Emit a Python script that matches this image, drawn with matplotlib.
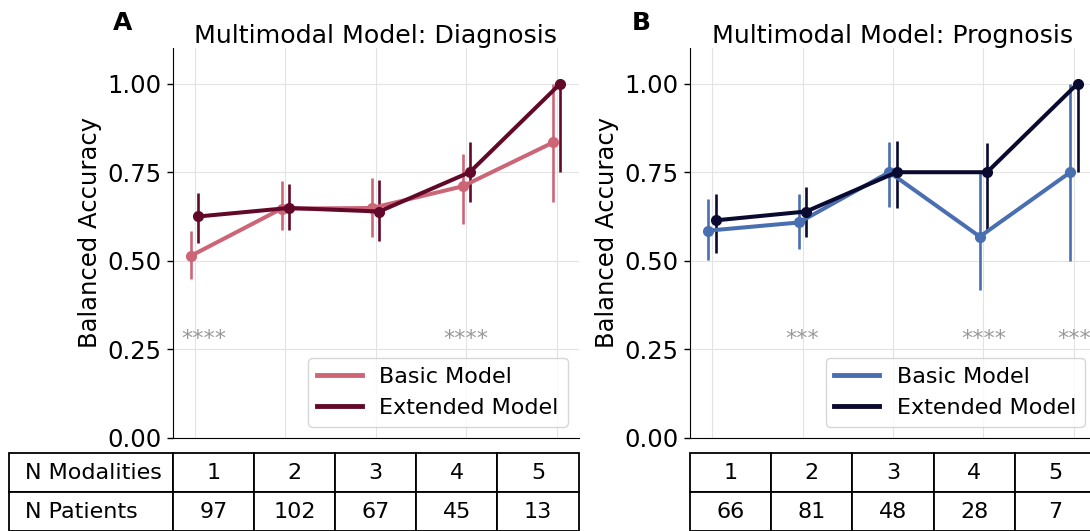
import numpy as np
import matplotlib
matplotlib.use('Agg')
import matplotlib.pyplot as plt
from matplotlib.lines import Line2D

# データの準備
n_modalities = ['1', '2', '3', '4', '5']
n_patients_diag = ['97', '102', '67', '45', '13']
n_patients_prog = ['66', '81', '48', '28', '7']

# Diagnosis: 平均値と誤差範囲 (下限, 上限)
diag_basic = [0.514, 0.647, 0.649, 0.710, 0.834]
diag_basic_lo = [0.448, 0.587, 0.568, 0.604, 0.667]
diag_basic_hi = [0.583, 0.724, 0.734, 0.801, 1.000]
diag_ext = [0.625, 0.649, 0.639, 0.750, 1.000]
diag_ext_lo = [0.550, 0.587, 0.555, 0.667, 0.751]
diag_ext_hi = [0.691, 0.717, 0.727, 0.834, 1.000]

# Prognosis
prog_basic = [0.585, 0.608, 0.750, 0.568, 0.750]
prog_basic_lo = [0.503, 0.533, 0.653, 0.418, 0.500]
prog_basic_hi = [0.674, 0.689, 0.834, 0.751, 1.000]
prog_ext = [0.614, 0.639, 0.750, 0.750, 1.000]
prog_ext_lo = [0.521, 0.568, 0.649, 0.587, 0.750]
prog_ext_hi = [0.689, 0.708, 0.839, 0.833, 1.000]

# 有意差の星印 (位置, ラベル)
diag_stars = [(0, '****'), (3, '****')]
prog_stars = [(1, '***'), (3, '****'), (4, '***')]

FS = 16
FS_AX = 17.5
plt.rcParams['font.family'] = ['DejaVu Sans']
plt.rcParams['font.size'] = FS

fig = plt.figure(figsize=(10.9, 5.31), dpi=100)
ax_w = 0.3725
ax_b = 0.1757
ax_h = 0.7333
ax1 = fig.add_axes([0.1584, ax_b, ax_w, ax_h])
ax2 = fig.add_axes([0.633, ax_b, ax_w, ax_h])


def draw_series(ax, vals, lo, hi, offset, color):
    x = np.arange(len(vals)) + offset
    vals = np.array(vals)
    yerr = [vals - np.array(lo), np.array(hi) - vals]
    ax.errorbar(x, vals, yerr=yerr, color=color, lw=2.9, marker='o', ms=7,
                elinewidth=1.9, capsize=0, zorder=3)


def plot_panel(ax, title, basic, ext, c_basic, c_ext, stars, patients, row_labels):
    draw_series(ax, *basic, -0.04, c_basic)
    draw_series(ax, *ext, 0.04, c_ext)

    ax.set_ylim(0, 1.1)
    ax.set_yticks([0, 0.25, 0.5, 0.75, 1.0])
    ax.set_yticklabels(['%.2f' % t for t in [0, 0.25, 0.5, 0.75, 1.0]], fontsize=FS_AX)
    ax.set_xticks(range(5))
    ax.set_xticklabels([])
    ax.tick_params(axis='x', length=0)
    ax.tick_params(axis='y', length=4.5, width=1)
    ax.grid(True, color='#e3e3e3', lw=0.8)
    ax.set_axisbelow(True)
    for s in ['top', 'right']:
        ax.spines[s].set_visible(False)
    ax.set_ylabel('Balanced Accuracy', fontsize=FS_AX)
    ax.yaxis.set_label_coords(-0.174, 0.528)
    ax.set_title(title, fontsize=18.2, pad=3)

    for pos, txt in stars:
        xx = pos + 0.1 if pos == 0 else pos
        ax.text(xx, 0.278, txt, ha='center', va='center', color='#999999', fontsize=FS)

    handles = [Line2D([0], [0], color=c_basic, lw=3.5),
               Line2D([0], [0], color=c_ext, lw=3.5)]
    ax.legend(handles, ['Basic Model', 'Extended Model'], loc='lower right', fontsize=FS)

    # 表 (N Modalities / N Patients)
    if row_labels:
        cell_text = [[row_labels[0]] + n_modalities, [row_labels[1]] + patients]
        lab_w = 0.403
        widths = [lab_w] + [0.2] * 5
        tb = ax.table(cellText=cell_text, colWidths=widths, cellLoc='center',
                      bbox=[-lab_w, -0.2396, 1 + lab_w, 0.1996])
        for r in range(2):
            tb[r, 0].get_text().set_ha('left')
    else:
        cell_text = [n_modalities, patients]
        tb = ax.table(cellText=cell_text, colWidths=[0.2] * 5, cellLoc='center',
                      bbox=[0, -0.2396, 1, 0.1996])
    tb.auto_set_font_size(False)
    tb.set_fontsize(FS)
    for cell in tb.get_celld().values():
        cell.set_linewidth(1.3)


plot_panel(ax1, 'Multimodal Model: Diagnosis',
           (diag_basic, diag_basic_lo, diag_basic_hi),
           (diag_ext, diag_ext_lo, diag_ext_hi),
           '#CC6677', '#62092A', diag_stars, n_patients_diag,
           ['N Modalities', 'N Patients'])
plot_panel(ax2, 'Multimodal Model: Prognosis',
           (prog_basic, prog_basic_lo, prog_basic_hi),
           (prog_ext, prog_ext_lo, prog_ext_hi),
           '#4A6FB0', '#0A0A30', prog_stars, n_patients_prog, None)

fig.text(0.1037, 0.9435, 'A', fontsize=FS + 2, fontweight='bold', va='baseline')
fig.text(0.5798, 0.9435, 'B', fontsize=FS + 2, fontweight='bold', va='baseline')

plt.savefig('out.png', dpi=100)
plt.close()
